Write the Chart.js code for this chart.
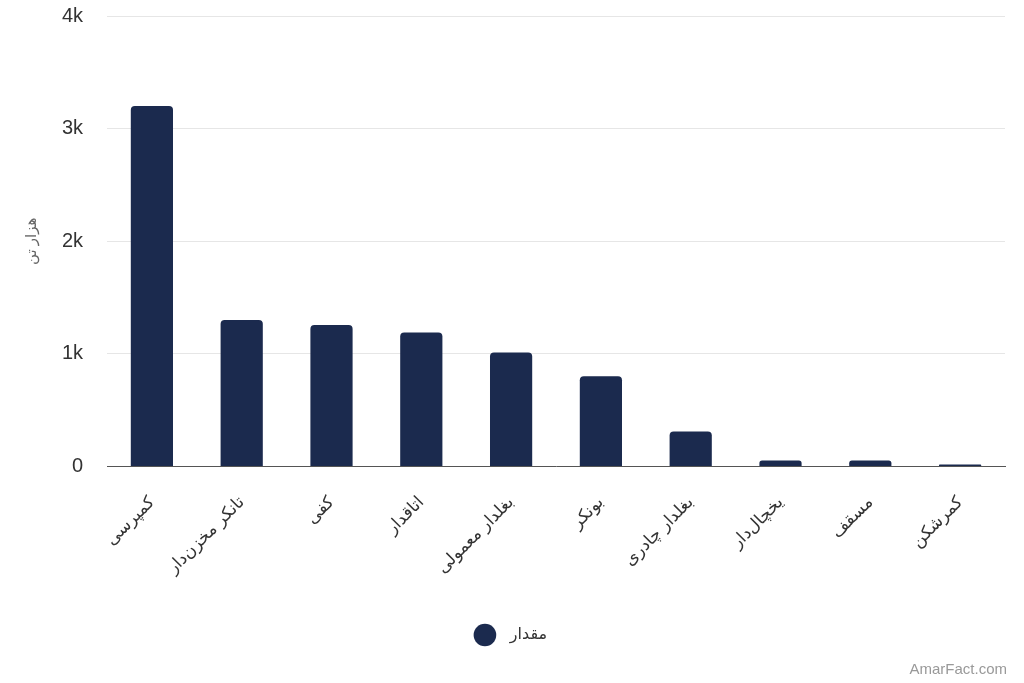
<!DOCTYPE html>
<html>
<head>
<meta charset="utf-8">
<script src="https://cdn.jsdelivr.net/npm/chart.js@4/dist/chart.umd.min.js"></script>
<style>
  body { margin: 0; background: #fff; }
  #wrap { position: relative; width: 1024px; height: 683px; }
  #credit { position: absolute; right: 17px; bottom: 6px; font: 15px "Liberation Sans", Arial, sans-serif; color: #999; }
</style>
</head>
<body>
<div id="wrap">
  <canvas id="truckChart" width="1024" height="683"></canvas>
  <div id="credit">AmarFact.com</div>
</div>
<script>
// categories (truck types) and tonnage in thousand tonnes
const categories = ['کمپرسی', 'تانکر مخزن‌دار', 'کفی', 'اتاقدار', 'بغلدار معمولی', 'بونکر', 'بغلدار چادری', 'یخچال‌دار', 'مسقف', 'کمرشکن'];
const amounts = [3200, 1300, 1255, 1190, 1013, 800, 311, 53, 53, 18];
const yTicks = [0, 1000, 2000, 3000, 4000];

const fontFamily = '"Liberation Sans", Arial, "DejaVu Sans", sans-serif';
const barColor = '#1b2a4e';

const ctx = document.getElementById('truckChart').getContext('2d');

new Chart(ctx, {
    type: 'bar',
    data: {
        labels: categories,
        datasets: [{
            label: '  مقدار',
            data: amounts,
            backgroundColor: barColor,
            borderRadius: { topLeft: 4, topRight: 4 },
            borderSkipped: 'bottom',
            barPercentage: 0.47,
            categoryPercentage: 1
        }]
    },
    options: {
        responsive: false,
        animation: false,
        layout: { padding: { top: 0, right: 19, bottom: 30, left: 19 } },
        scales: {
            x: {
                grid: { display: false },
                border: { display: true, color: '#555', width: 1 },
                ticks: {
                    minRotation: 45,
                    maxRotation: 45,
                    color: '#333',
                    padding: 18,
                    font: { family: fontFamily, size: 17 }
                },
                afterFit: scale => { scale.height += 1; }
            },
            y: {
                min: 0,
                max: 4000,
                afterBuildTicks: axis => { axis.ticks = yTicks.map(v => ({ value: v })); },
                afterFit: scale => {
                    // keep the plot edge where the reference has it
                    scale.width = 88;
                    scale.paddingTop = 16;
                },
                grid: { color: '#e6e6e6', drawTicks: false },
                border: { display: false },
                ticks: {
                    color: '#333',
                    padding: 24,
                    font: { family: fontFamily, size: 20 },
                    callback: v => v === 0 ? '0' : (v / 1000) + 'k'
                },
                title: {
                    display: true,
                    text: 'هزار تن',
                    color: '#666',
                    font: { family: fontFamily, size: 15 },
                    padding: { top: 4, bottom: 4 }
                }
            }
        },
        plugins: {
            legend: {
                position: 'bottom',
                labels: {
                    usePointStyle: true,
                    pointStyle: 'circle',
                    boxWidth: 16,
                    boxHeight: 16,
                    padding: 30,
                    color: '#333',
                    font: { family: fontFamily, size: 16 }
                }
            },
            tooltip: { enabled: false }
        }
    }
});
</script>
</body>
</html>
